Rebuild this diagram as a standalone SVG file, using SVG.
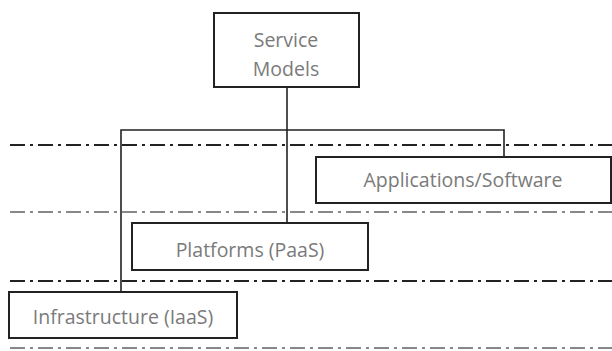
<svg xmlns="http://www.w3.org/2000/svg" width="612" height="351" viewBox="0 0 612 351">
<style>
.box{fill:#fff;stroke:#222;stroke-width:2}
.lbl{font-family:"Open Sans","Liberation Sans",sans-serif;font-size:19.5px;fill:#7a7a7a;text-anchor:middle}
.dd{fill:none;stroke-width:2;stroke-dasharray:15 5 3 5}
.conn{fill:none;stroke:#222;stroke-width:1.6}
</style>
<rect width="612" height="351" fill="#fff"/>
<g id="bands">
<line class="dd" x1="10" y1="145" x2="612" y2="145" stroke="#222"/>
<line class="dd" x1="10" y1="212" x2="612" y2="212" stroke="#888"/>
<line class="dd" x1="10" y1="281" x2="612" y2="281" stroke="#222"/>
<line class="dd" x1="10" y1="348" x2="612" y2="348" stroke="#888"/>
</g>
<g id="connectors">
<path class="conn" d="M287 87 V223"/>
<path class="conn" d="M121 292 V130 H504 V157"/>
</g>
<g id="service-models">
<rect class="box" x="214" y="13" width="145" height="74"/>
<text class="lbl" x="286" y="47">Service</text>
<text class="lbl" x="286" y="76">Models</text>
</g>
<g id="applications">
<rect class="box" x="316" y="157" width="295" height="46"/>
<text class="lbl" x="463" y="187">Applications/Software</text>
</g>
<g id="platforms">
<rect class="box" x="132" y="223" width="236" height="47"/>
<text class="lbl" x="250" y="257">Platforms (PaaS)</text>
</g>
<g id="infrastructure">
<rect class="box" x="9" y="292" width="228" height="46"/>
<text class="lbl" x="123" y="324">Infrastructure (IaaS)</text>
</g>
</svg>
